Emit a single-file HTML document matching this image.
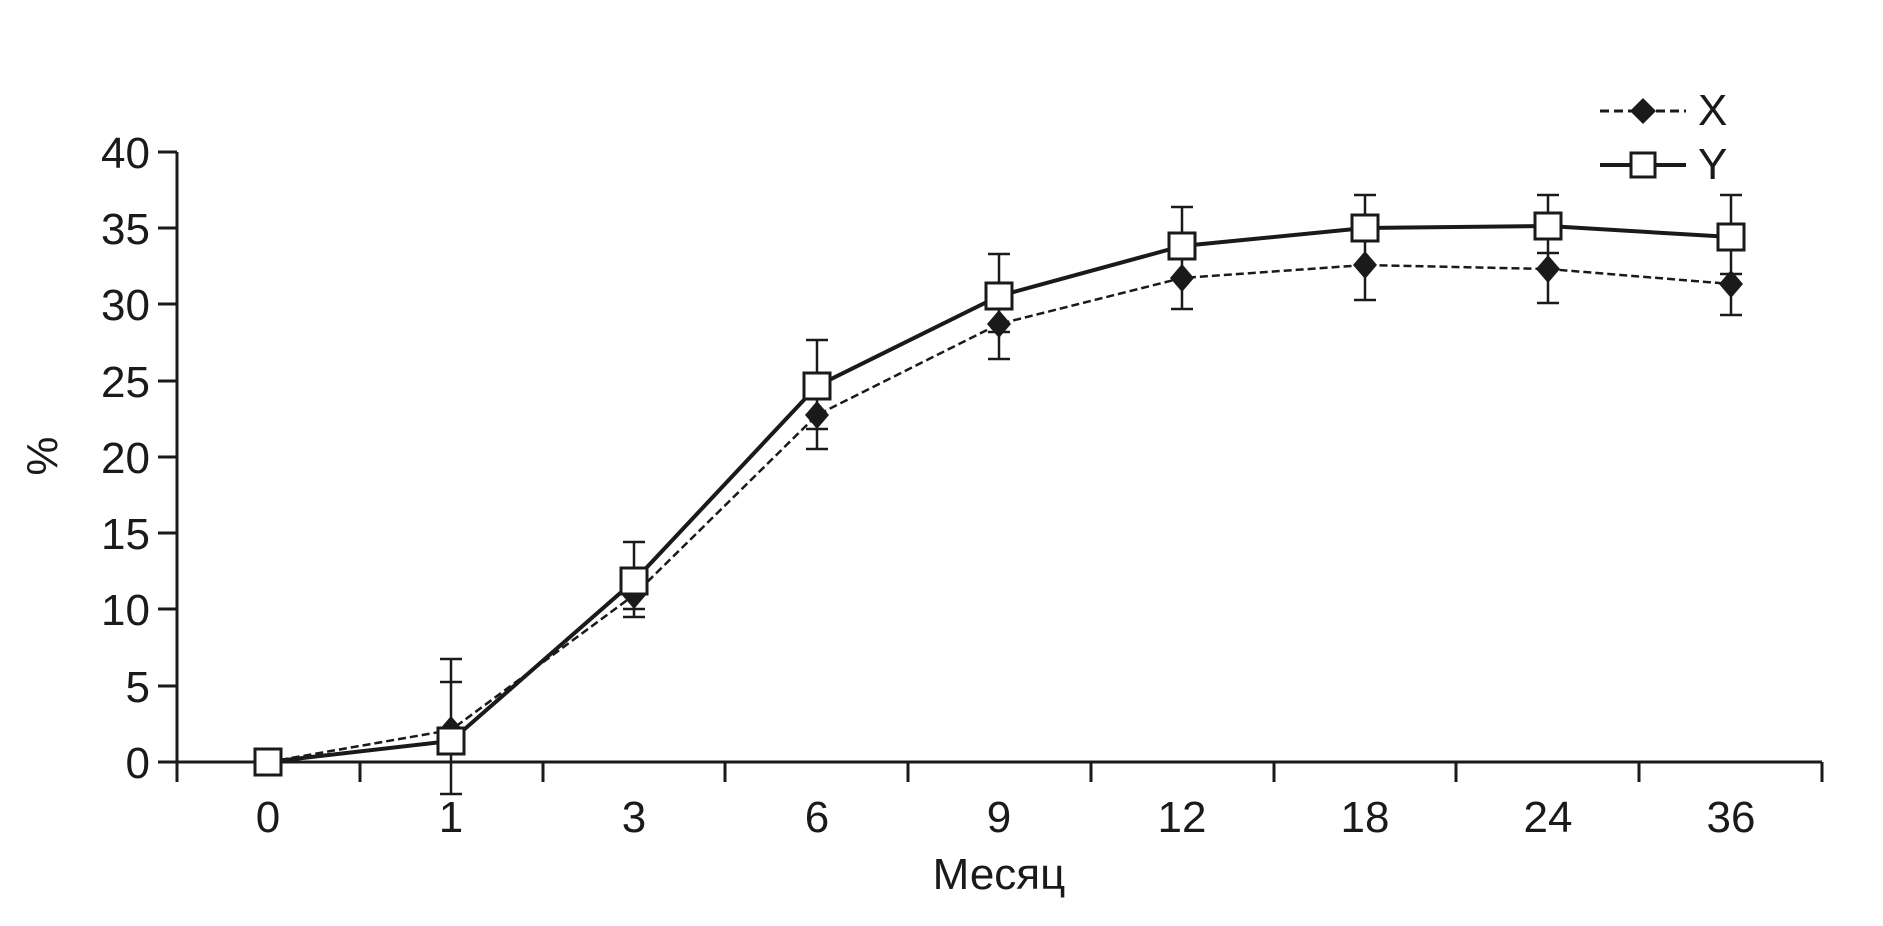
<!DOCTYPE html>
<html><head><meta charset="utf-8"><style>body{margin:0;background:#fff}</style></head><body>
<svg width="1883" height="921" xmlns="http://www.w3.org/2000/svg" font-family="Liberation Sans, sans-serif" fill="#1a1a1a">
<g stroke="#1a1a1a" stroke-width="3" fill="none">
<line x1="177" y1="152" x2="177" y2="762"/>
<line x1="177" y1="762" x2="1822" y2="762"/>
<line x1="158" y1="152" x2="177" y2="152"/>
<line x1="158" y1="228" x2="177" y2="228"/>
<line x1="158" y1="304" x2="177" y2="304"/>
<line x1="158" y1="381" x2="177" y2="381"/>
<line x1="158" y1="457" x2="177" y2="457"/>
<line x1="158" y1="533" x2="177" y2="533"/>
<line x1="158" y1="609" x2="177" y2="609"/>
<line x1="158" y1="686" x2="177" y2="686"/>
<line x1="158" y1="762" x2="177" y2="762"/>
<line x1="177" y1="762" x2="177" y2="782"/><line x1="360" y1="762" x2="360" y2="782"/><line x1="543" y1="762" x2="543" y2="782"/><line x1="725" y1="762" x2="725" y2="782"/><line x1="908" y1="762" x2="908" y2="782"/><line x1="1091" y1="762" x2="1091" y2="782"/><line x1="1274" y1="762" x2="1274" y2="782"/><line x1="1456" y1="762" x2="1456" y2="782"/><line x1="1639" y1="762" x2="1639" y2="782"/><line x1="1822" y1="762" x2="1822" y2="782"/>
</g>
<g font-size="44" text-anchor="end">
<text x="150" y="168">40</text><text x="150" y="244">35</text><text x="150" y="320">30</text><text x="150" y="397">25</text><text x="150" y="473">20</text><text x="150" y="549">15</text><text x="150" y="625">10</text><text x="150" y="702">5</text><text x="150" y="778">0</text>
</g>
<g font-size="44" text-anchor="middle">
<text x="268" y="832">0</text><text x="451" y="832">1</text><text x="634" y="832">3</text><text x="817" y="832">6</text><text x="999" y="832">9</text><text x="1182" y="832">12</text><text x="1365" y="832">18</text><text x="1548" y="832">24</text><text x="1731" y="832">36</text>
<text x="999" y="889">Месяц</text>
<text x="0" y="0" transform="translate(57,456) rotate(-90)">%</text>
</g>
<g stroke="#1a1a1a" stroke-width="2.5">
<path d="M451 659V794M440 659h22M440 682h22M440 794h22"/>
<path d="M634 542V617M623 542h22M623 609h22M623 617h22"/>
<path d="M817 340V449M806 340h22M806 429h22M806 449h22"/>
<path d="M999 254V359M988 254h22M988 332h22M988 359h22"/>
<path d="M1182 207V309M1171 207h22M1171 309h22M1171 259h22"/>
<path d="M1365 195V300M1354 195h22M1354 300h22M1354 239h22"/>
<path d="M1548 195V303M1537 195h22M1537 303h22M1537 253h22"/>
<path d="M1731 195V315M1720 195h22M1720 315h22M1720 274h22"/>
</g>
<polyline fill="none" stroke="#1a1a1a" stroke-width="2.5" stroke-dasharray="8,4" points="268,762 451,730 634,595 817,415 999,324 1182,278 1365,265 1548,269 1731,284"/>
<polyline fill="none" stroke="#1a1a1a" stroke-width="4" points="268,762 451,741 634,581 817,386 999,296 1182,246 1365,228 1548,226 1731,237"/>
<g fill="#1a1a1a">
<path d="M451 716l12 14-12 14-12-14z"/><path d="M634 581l12 14-12 14-12-14z"/><path d="M817 401l12 14-12 14-12-14z"/><path d="M999 310l12 14-12 14-12-14z"/><path d="M1182 264l12 14-12 14-12-14z"/><path d="M1365 251l12 14-12 14-12-14z"/><path d="M1548 255l12 14-12 14-12-14z"/><path d="M1731 270l12 14-12 14-12-14z"/>
</g>
<g fill="#fff" stroke="#1a1a1a" stroke-width="3">
<rect x="255" y="749" width="26" height="26"/><rect x="438" y="728" width="26" height="26"/><rect x="621" y="568" width="26" height="26"/><rect x="804" y="373" width="26" height="26"/><rect x="986" y="283" width="26" height="26"/><rect x="1169" y="233" width="26" height="26"/><rect x="1352" y="215" width="26" height="26"/><rect x="1535" y="213" width="26" height="26"/><rect x="1718" y="224" width="26" height="26"/>
</g>
<line x1="1600" y1="111" x2="1686" y2="111" stroke="#1a1a1a" stroke-width="3" stroke-dasharray="9,5"/>
<path d="M1643 98l13 13-13 13-13-13z" fill="#1a1a1a"/>
<line x1="1600" y1="165" x2="1686" y2="165" stroke="#1a1a1a" stroke-width="4"/>
<rect x="1631" y="153" width="24" height="24" fill="#fff" stroke="#1a1a1a" stroke-width="3"/>
<text x="1698" y="125" font-size="44">X</text>
<text x="1698" y="179" font-size="44">Y</text>
</svg>
</body></html>
